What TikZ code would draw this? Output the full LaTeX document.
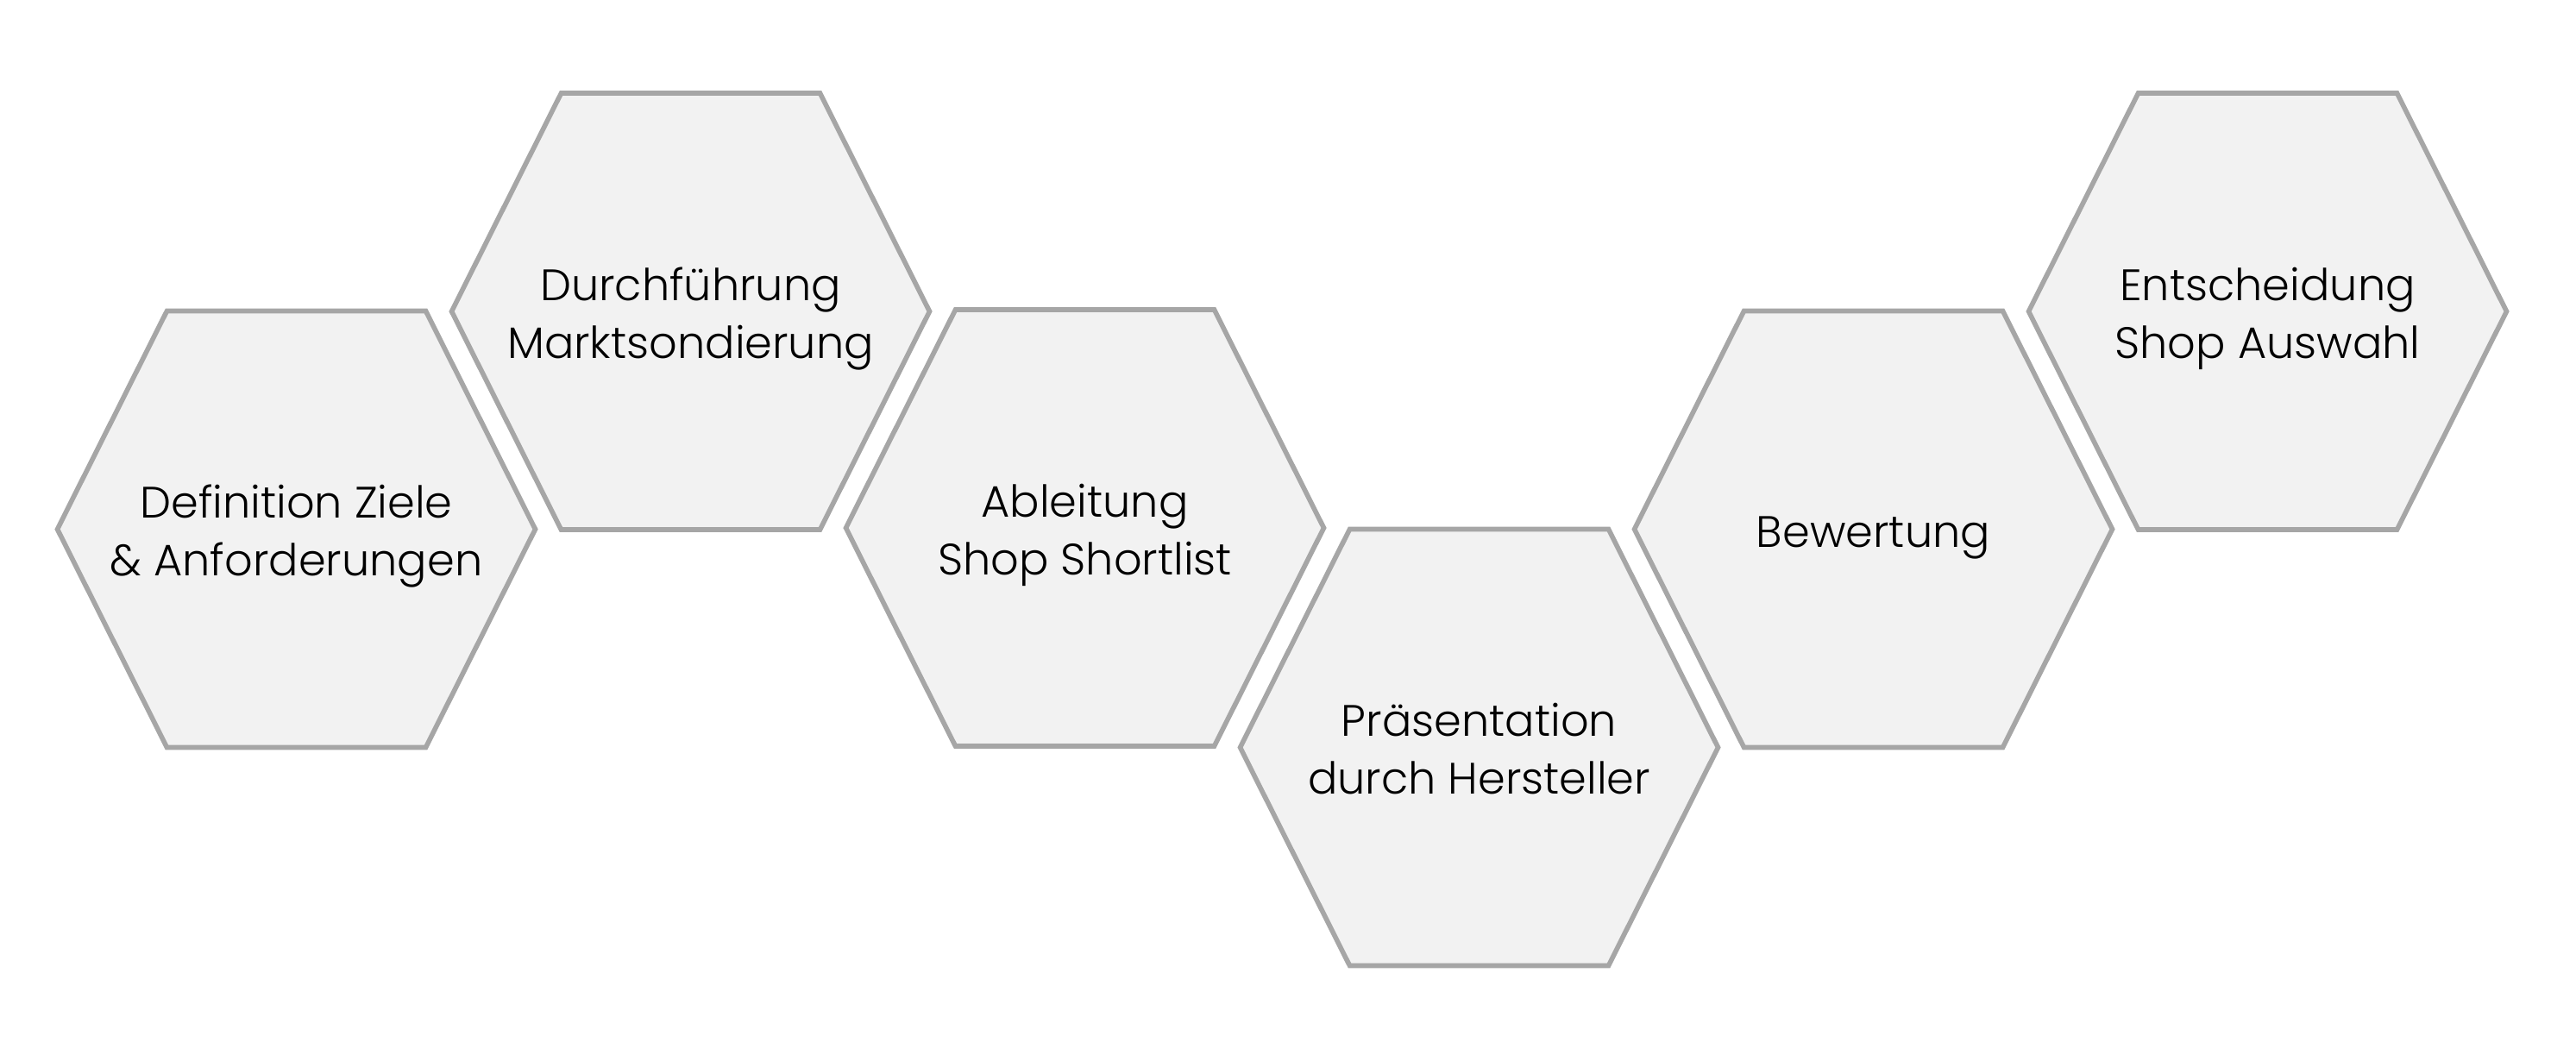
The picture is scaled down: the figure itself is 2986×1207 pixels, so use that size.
\documentclass[tikz,border=0pt]{standalone}
\usepackage{fontspec}
\setmainfont{Poppins}[UprightFont=* Light]
\definecolor{hexfill}{HTML}{F2F2F2}
\definecolor{hexline}{HTML}{A6A6A6}
\tikzset{
  hexshape/.style={draw=hexline, fill=hexfill, line width=2.8pt, line join=miter},
  hexlabel/.style={inner sep=0pt, anchor=base, text=black, font=\fontsize{25.5}{33.5}\selectfont}
}
% #1 name, #2 cx, #3 cy, #4 text node
\newcommand\hexstep[4]{%
  \coordinate (#1c) at (#2,#3);
  \draw[hexshape, shift={(#1c)}] (-277,0) -- (-150,-253) -- (150,-253) -- (277,0) -- (150,253) -- (-150,253) -- cycle;
  #4
}
\begin{document}
\begin{tikzpicture}[x=0.5pt, y=-0.5pt]
\useasboundingbox (0,0) rectangle (2986,1207);
\hexstep{h1}{343.5}{613.5}{\node[hexlabel] (t1) at ([yshift=6.5pt]h1c) {\begin{tabular}[t]{@{}c@{}}Definition Ziele\\ \& Anforderungen\end{tabular}};}
\hexstep{h2}{800.5}{361}{\node[hexlabel] (t2) at ([yshift=6.5pt]h2c) {\begin{tabular}[t]{@{}c@{}}Durchführung\\ Marktsondierung\end{tabular}};}
\hexstep{h3}{1257.5}{612}{\node[hexlabel] (t3) at ([yshift=6.5pt]h3c) {\begin{tabular}[t]{@{}c@{}}Ableitung\\ Shop Shortlist\end{tabular}};}
\hexstep{h4}{1714.5}{866.5}{\node[hexlabel] (t4) at ([yshift=6.5pt]h4c) {\begin{tabular}[t]{@{}c@{}}Präsentation\\ durch Hersteller\end{tabular}};}
\hexstep{h5}{2171.5}{613.5}{\node[hexlabel] (t5) at ([yshift=-10.5pt]h5c) {Bewertung};}
\hexstep{h6}{2628.5}{361}{\node[hexlabel] (t6) at ([yshift=6.5pt]h6c) {\begin{tabular}[t]{@{}c@{}}Entscheidung\\ Shop Auswahl\end{tabular}};}
\end{tikzpicture}
\end{document}
